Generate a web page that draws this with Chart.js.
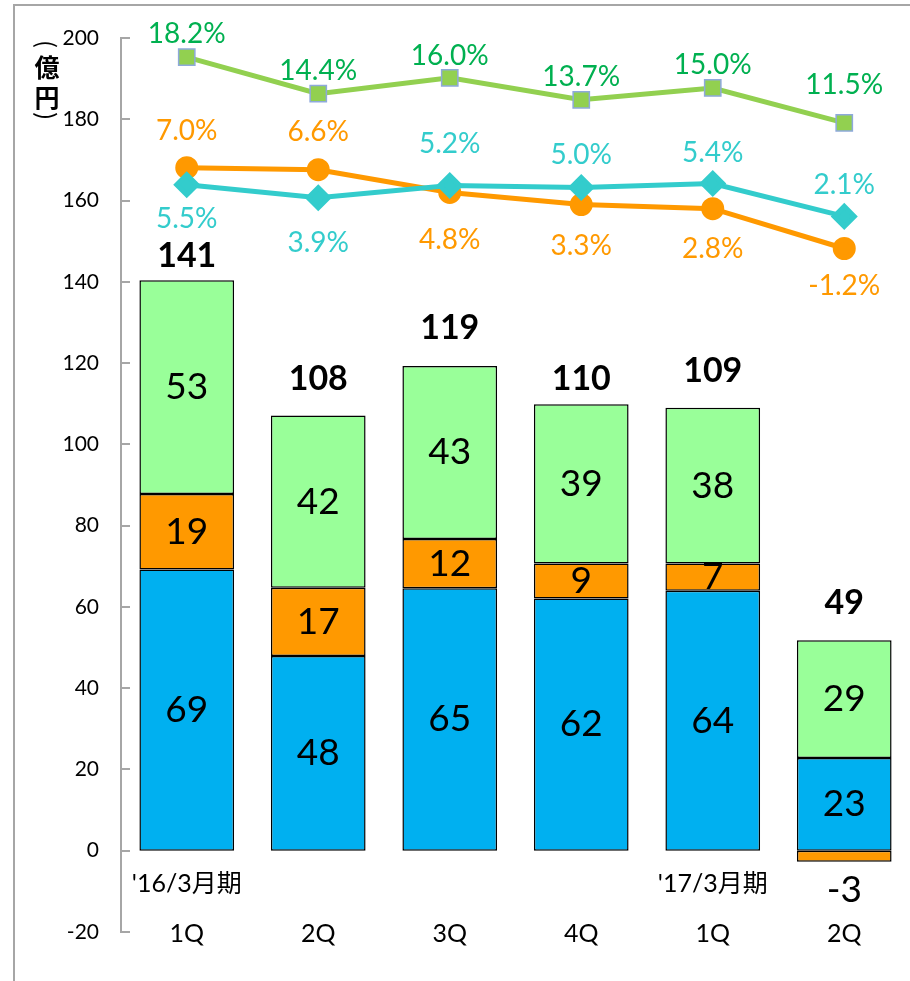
<!DOCTYPE html>
<html>
<head>
<meta charset="utf-8">
<script src="https://cdn.jsdelivr.net/npm/chart.js@4.4.1/dist/chart.umd.min.js"></script>
<style>
html, body { margin: 0; padding: 0; background: #fff; }
</style>
</head>
<body>
<canvas id="myChart" width="910" height="981"></canvas>
<script>
// カテゴリ
const quarters = ['1Q', '2Q', '3Q', '4Q', '1Q', '2Q'];
const periods = ["'16/3月期", '', '', '', "'17/3月期", ''];

// 積み上げ棒 (億円)
const blueValues = [69.2, 47.9, 64.6, 62.1, 64.0, 22.8];
const orangeValues = [18.6, 16.8, 12.1, 8.6, 6.7, -2.7];
const greenValues = [52.6, 42.4, 42.6, 39.2, 38.3, 29.0];
const totalLabels = ['141', '108', '119', '110', '109', '49'];

// 折れ線 (位置) と利益率ラベル
const greenLine = [195.3, 186.3, 190.2, 184.8, 187.7, 179.1];
const orangeLine = [168.1, 167.6, 162.0, 159.0, 158.0, 148.2];
const cyanLine = [163.9, 160.7, 163.7, 163.2, 164.2, 156.1];
const greenPct = ['18.2%', '14.4%', '16.0%', '13.7%', '15.0%', '11.5%'];
const orangePct = ['7.0%', '6.6%', '4.8%', '3.3%', '2.8%', '-1.2%'];
const cyanPct = ['5.5%', '3.9%', '5.2%', '5.0%', '5.4%', '2.1%'];

// ラベルのずらし量 (px)
const greenOff = [-23, -23, -22, -23, -23, -38];
const orangeOff = [-37, -38, 48, 41, 40, 37];
const cyanOff = [34, 45, -42, -33, -31, -31];
const totalOff = [24, 36, 38, 25, 37, 37];

const FONT = 'Lato, "Noto Sans CJK JP", sans-serif';
const CJK = '"Noto Sans CJK JP", sans-serif';

const labelPlugin = {
  id: 'labels',
  beforeDraw(chart) {
    const ctx = chart.ctx;
    ctx.save();
    ctx.strokeStyle = '#a6a6a6';
    ctx.lineWidth = 2;
    ctx.beginPath();
    ctx.moveTo(14, 990);
    ctx.lineTo(14, 5);
    ctx.lineTo(920, 5);
    ctx.stroke();
    ctx.restore();
  },
  afterDatasetsDraw(chart) {
    const ctx = chart.ctx;
    ctx.save();
    ctx.textAlign = 'center';
    ctx.textBaseline = 'middle';

    // 棒の中の数値
    [0, 1, 2].forEach(di => {
      const meta = chart.getDatasetMeta(di);
      meta.data.forEach((bar, i) => {
        const v = chart.data.datasets[di].data[i];
        ctx.font = '37px ' + FONT;
        ctx.fillStyle = '#000';
        if (v < 0) {
          ctx.fillText(Math.round(v), bar.x, bar.y + 28);
        } else {
          ctx.fillText(Math.round(v), bar.x, (bar.y + bar.base) / 2);
        }
      });
    });

    // 合計
    const top = chart.getDatasetMeta(2);
    top.data.forEach((bar, i) => {
      ctx.font = 'bold 34px ' + FONT;
      ctx.fillStyle = '#000';
      ctx.fillText(totalLabels[i], bar.x, bar.y - totalOff[i]);
    });

    // 折れ線ラベル
    const lines = [
      { idx: 3, texts: greenPct, off: greenOff, color: '#00b050' },
      { idx: 4, texts: orangePct, off: orangeOff, color: '#ff9900' },
      { idx: 5, texts: cyanPct, off: cyanOff, color: '#33cccc' }
    ];
    lines.forEach(l => {
      chart.getDatasetMeta(l.idx).data.forEach((pt, i) => {
        ctx.font = '28px ' + FONT;
        ctx.fillStyle = l.color;
        ctx.fillText(l.texts[i], pt.x, pt.y + l.off[i]);
      });
    });
    ctx.restore();
  },
  afterDraw(chart) {
    const ctx = chart.ctx;
    const x = chart.scales.x;
    const y = chart.scales.y;
    ctx.save();

    // 目盛り (内向き)
    ctx.strokeStyle = '#a6a6a6';
    ctx.lineWidth = 2;
    y.ticks.forEach(t => {
      const py = Math.round(y.getPixelForValue(t.value));
      ctx.beginPath();
      ctx.moveTo(chart.chartArea.left, py);
      ctx.lineTo(chart.chartArea.left + 9, py);
      ctx.stroke();
    });

    // 横軸ラベル
    ctx.textAlign = 'center';
    ctx.textBaseline = 'middle';
    ctx.fillStyle = '#000';
    const baseY = y.getPixelForValue(-20);
    quarters.forEach((q, i) => {
      const px = x.getPixelForValue(i);
      ctx.font = '25px ' + FONT;
      ctx.fillText(q, px, baseY + 2);
      if (periods[i]) {
        ctx.font = '25px ' + FONT;
        ctx.fillText(periods[i], px, baseY - 48);
      }
    });

    // 単位 (億円) 縦書き
    ctx.font = 'bold 25px ' + CJK;
    ctx.fillText('億', 47, 67);
    ctx.fillText('円', 47, 97);
    ctx.font = '24px ' + CJK;
    [['(', 44], [')', 116]].forEach(([c, py]) => {
      ctx.save();
      ctx.translate(47, py);
      ctx.rotate(Math.PI / 2);
      ctx.fillText(c, 0, 0);
      ctx.restore();
    });
    ctx.restore();
  }
};

const ctx = document.getElementById('myChart').getContext('2d');
const myChart = new Chart(ctx, {
  type: 'bar',
  data: {
    labels: quarters,
    datasets: [
      {
        label: 'blue',
        data: blueValues,
        backgroundColor: '#00b0f0',
        borderColor: '#000',
        borderWidth: 1.5,
        borderSkipped: false,
        stack: 's',
        order: 3
      },
      {
        label: 'orange',
        data: orangeValues,
        backgroundColor: '#ff9900',
        borderColor: '#000',
        borderWidth: 1.5,
        borderSkipped: false,
        stack: 's',
        order: 4
      },
      {
        label: 'green',
        data: greenValues,
        backgroundColor: '#99ff99',
        borderColor: '#000',
        borderWidth: 1.5,
        borderSkipped: false,
        stack: 's',
        order: 5
      },
      {
        type: 'line',
        label: 'greenLine',
        data: greenLine,
        yAxisID: 'yl',
        borderColor: '#92d050',
        borderWidth: 5,
        pointStyle: 'rect',
        pointRadius: 11.5,
        pointBackgroundColor: '#92d050',
        pointBorderColor: '#8ea9db',
        pointBorderWidth: 1.5,
        order: 2
      },
      {
        type: 'line',
        label: 'orangeLine',
        data: orangeLine,
        yAxisID: 'yl',
        borderColor: '#ff9900',
        borderWidth: 5,
        pointStyle: 'circle',
        pointRadius: 9,
        pointBackgroundColor: '#ff9900',
        pointBorderColor: '#ff9900',
        order: 1
      },
      {
        type: 'line',
        label: 'cyanLine',
        data: cyanLine,
        yAxisID: 'yl',
        borderColor: '#33cccc',
        borderWidth: 5,
        pointStyle: 'rectRot',
        pointRadius: 10,
        pointBackgroundColor: '#33cccc',
        pointBorderColor: '#33cccc',
        order: 0
      }
    ]
  },
  options: {
    responsive: false,
    animation: false,
    layout: { autoPadding: false, padding: { top: 38, bottom: 49, left: 0, right: 0 } },
    plugins: {
      legend: { display: false },
      tooltip: { enabled: false }
    },
    scales: {
      x: {
        stacked: true,
        display: false,
        barPercentage: 0.685,
        categoryPercentage: 1
      },
      y: {
        stacked: true,
        min: -20,
        max: 200,
        ticks: {
          stepSize: 20,
          color: '#000',
          padding: 22,
          font: { size: 21, family: FONT }
        },
        grid: { display: false, drawTicks: false },
        border: { color: '#a6a6a6', width: 2 },
        afterFit(scale) { scale.width = 121; }
      },
      yl: {
        display: false,
        min: -20,
        max: 200
      }
    }
  },
  plugins: [labelPlugin]
});
</script>
</body>
</html>
